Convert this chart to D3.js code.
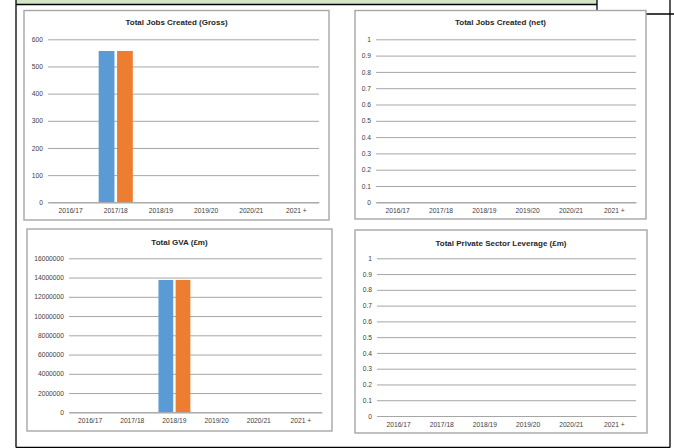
<!DOCTYPE html>
<html>
<head>
<meta charset="utf-8">
<script src="https://cdn.jsdelivr.net/npm/d3@7"></script>
<style>
  body { margin: 0; background: #fff; }
  svg { display: block; font-family: "Liberation Sans", Arial, sans-serif; }
</style>
</head>
<body>
<div id="chart"></div>
<script>
// data
const categories = ["2016/17", "2017/18", "2018/19", "2019/20", "2020/21", "2021 +"];
const seriesNames = ["Profile", "Actual"];

const jobsGrossProfile = [0, 557, 0, 0, 0, 0];
const jobsGrossActual  = [0, 557, 0, 0, 0, 0];
const jobsNetProfile   = [0, 0, 0, 0, 0, 0];
const jobsNetActual    = [0, 0, 0, 0, 0, 0];
const gvaProfile       = [0, 0, 13750000, 0, 0, 0];
const gvaActual        = [0, 0, 13750000, 0, 0, 0];
const leverageProfile  = [0, 0, 0, 0, 0, 0];
const leverageActual   = [0, 0, 0, 0, 0, 0];

const jobsGrossTicks = [0, 100, 200, 300, 400, 500, 600];
const gvaTicks = [0, 2000000, 4000000, 6000000, 8000000, 10000000, 12000000, 14000000, 16000000];
const unitTicks = [0, 0.1, 0.2, 0.3, 0.4, 0.5, 0.6, 0.7, 0.8, 0.9, 1];

const colors = ["#5b9bd5", "#ed7d31"];

const svg = d3.select("#chart")
    .append("svg")
    .attr("width", 674)
    .attr("height", 448);

// surrounding document table lines
svg.append("rect")
    .attr("x", 16).attr("y", 0)
    .attr("width", 581).attr("height", 4.5)
    .attr("fill", "#d3e6c4");

const black = [
    [16, 0, 16, 447.5],
    [16, 4.5, 597, 4.5],
    [597, 0, 597, 14],
    [597, 14, 674, 14],
    [670, 0, 670, 447.5],
    [16, 447.5, 670, 447.5]
];
svg.selectAll("line.doc")
    .data(black)
    .join("line")
        .attr("class", "doc")
        .attr("x1", d => d[0]).attr("y1", d => d[1])
        .attr("x2", d => d[2]).attr("y2", d => d[3])
        .attr("stroke", "#000")
        .attr("stroke-width", 1.3);

const charts = [
    { title: "Total Jobs Created (Gross)", values: [jobsGrossProfile, jobsGrossActual], ticks: jobsGrossTicks,
      box: [24, 10.5, 329, 220], plot: [48, 39.3, 319, 202.3], titleY: 25, fmt: d3.format("d") },
    { title: "Total Jobs Created (net)", values: [jobsNetProfile, jobsNetActual], ticks: unitTicks,
      box: [355, 10.5, 646, 219], plot: [376, 39.3, 636, 202.3], titleY: 25, fmt: d => String(+d.toFixed(1)) },
    { title: "Total GVA (£m)", values: [gvaProfile, gvaActual], ticks: gvaTicks,
      box: [27, 229, 332, 431], plot: [69, 258.3, 322, 412.3], titleY: 245, fmt: d3.format("d") },
    { title: "Total Private Sector Leverage (£m)", values: [leverageProfile, leverageActual], ticks: unitTicks,
      box: [355, 230, 647, 433], plot: [377, 258.3, 636, 416], titleY: 245.5, fmt: d => String(+d.toFixed(1)) }
];

const drawChart = (c) => {
    const g = svg.append("g");
    const [bx0, by0, bx1, by1] = c.box;
    const [px0, py0, px1, py1] = c.plot;

    g.append("rect")
        .attr("x", bx0).attr("y", by0)
        .attr("width", bx1 - bx0).attr("height", by1 - by0)
        .attr("fill", "#fff")
        .attr("stroke", "#a6a6a6")
        .attr("stroke-width", 1.4);

    g.append("text")
        .text(c.title)
        .attr("x", (bx0 + bx1) / 2)
        .attr("y", c.titleY)
        .attr("text-anchor", "middle")
        .attr("font-size", "8px")
        .attr("font-weight", "bold")
        .attr("fill", "#262626");

    const yScale = d3.scaleLinear()
        .domain([0, d3.max(c.ticks)])
        .range([py1, py0]);

    const x0 = d3.scaleBand()
        .domain(categories)
        .range([px0, px1]);

    const x1 = d3.scaleBand()
        .domain(seriesNames)
        .range([0, x0.bandwidth()])
        .paddingInner(0.14)
        .paddingOuter(0.3);

    // gridlines + y labels
    const yAxis = g.append("g")
        .attr("transform", `translate(${px0},0)`)
        .call(d3.axisLeft(yScale)
            .tickValues(c.ticks)
            .tickSize(-(px1 - px0))
            .tickPadding(5)
            .tickFormat(c.fmt));
    yAxis.select(".domain").remove();
    yAxis.selectAll(".tick line")
        .attr("stroke", "#a6a6a6")
        .attr("stroke-width", 1);
    yAxis.selectAll(".tick text")
        .attr("font-size", "6.7px")
        .attr("fill", "#404040")
        .attr("font-family", "Liberation Sans, Arial, sans-serif");

    // bars
    const series = seriesNames.map((name, i) => ({ name, values: c.values[i] }));
    g.selectAll("g.series")
        .data(series)
        .join("g")
            .attr("class", "series")
            .attr("fill", (d, i) => colors[i])
        .selectAll("rect")
        .data(s => s.values.map((v, j) => ({ name: s.name, cat: categories[j], v })))
        .join("rect")
            .attr("x", d => x0(d.cat) + x1(d.name))
            .attr("y", d => yScale(d.v))
            .attr("width", x1.bandwidth())
            .attr("height", d => yScale(0) - yScale(d.v));

    // x axis
    const xAxis = g.append("g")
        .attr("transform", `translate(0,${py1})`)
        .call(d3.axisBottom(x0).tickSize(0).tickPadding(6));
    xAxis.select(".domain")
        .attr("stroke", "#a6a6a6");
    xAxis.selectAll(".tick text")
        .attr("font-size", "6.7px")
        .attr("fill", "#404040")
        .attr("font-family", "Liberation Sans, Arial, sans-serif");
};

charts.forEach(drawChart);
</script>
</body>
</html>
